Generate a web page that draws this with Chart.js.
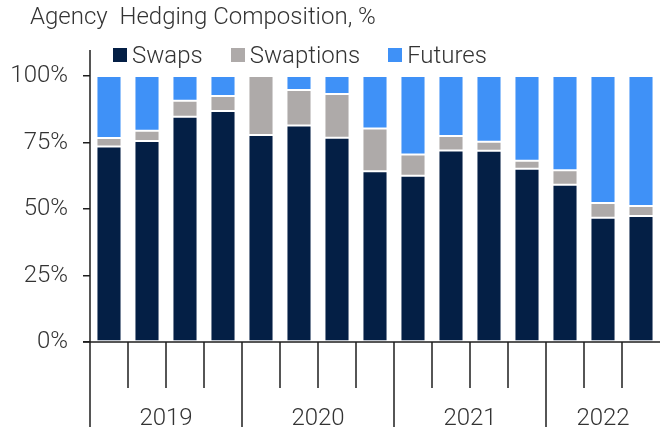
<!DOCTYPE html>
<html>
<head>
<meta charset="utf-8">
<script src="https://cdn.jsdelivr.net/npm/chart.js@4/dist/chart.umd.min.js"></script>
<style>
  html, body { margin: 0; padding: 0; background: #fff; }
  #wrap { position: relative; width: 660px; height: 427px; font-family: Roboto, 'Noto Sans', sans-serif; font-weight: 300; color: #333; }
  #titulo { position: absolute; left: 30px; top: 2px; font-size: 24px; white-space: nowrap; }
  #leyenda { position: absolute; left: 113px; top: 41px; display: flex; font-size: 24px; white-space: nowrap; }
  .item { display: flex; align-items: center; margin-right: 28px; }
  .caja { width: 14px; height: 14px; margin-right: 5px; }
  canvas { position: absolute; left: 0; top: 0; }
</style>
</head>
<body>
<div id="wrap">
  <canvas id="grafica" width="660" height="427"></canvas>
  <div id="titulo">Agency&nbsp; Hedging Composition, %</div>
  <div id="leyenda"></div>
</div>
<script>
// Datos (% del total)
const quarters = ['1Q19','2Q19','3Q19','4Q19','1Q20','2Q20','3Q20','4Q20','1Q21','2Q21','3Q21','4Q21','1Q22','2Q22','3Q22']
const years    = ['2019','2019','2019','2019','2020','2020','2020','2020','2021','2021','2021','2021','2022','2022','2022']
const swaps     = [73.5, 75.6, 84.7, 86.8, 77.8, 81.4, 76.8, 64.2, 62.5, 72.0, 71.9, 65.1, 59.1, 46.7, 47.4]
const swaptions = [3.2, 3.8, 6.0, 5.7, 22.2, 13.3, 16.4, 16.1, 8.0, 5.4, 3.4, 3.0, 5.5, 5.6, 3.7]
const futures   = [23.3, 20.6, 9.3, 7.5, 0.0, 5.3, 6.8, 19.7, 29.5, 22.6, 24.7, 31.9, 35.4, 47.7, 48.9]
const yTicks    = [0, 25, 50, 75, 100]

const COLORS = {
  swaps:     '#041f45',
  swaptions: '#aeaaa9',
  futures:   '#3f91f7',
  axis:      '#1e1e1e',
  text:      '#333333',
}
const FONT = "Roboto, 'Noto Sans', sans-serif"

const series = [
  { label: 'Swaps',     data: swaps,     color: COLORS.swaps },
  { label: 'Swaptions', data: swaptions, color: COLORS.swaptions },
  { label: 'Futures',   data: futures,   color: COLORS.futures },
]

// Leyenda en HTML
const ley = document.getElementById('leyenda')
series.forEach(function(s) {
  const it = document.createElement('div')
  it.className = 'item'
  it.innerHTML = '<div class="caja" style="background:' + s.color + '"></div><span>' + s.label + '</span>'
  ley.appendChild(it)
})

// Ejes, marcas de trimestre y etiquetas de año
const ejes = {
  id: 'ejes',
  afterDraw(chart) {
    const ctx = chart.ctx
    const x = chart.scales.x
    const y = chart.scales.y
    const area = chart.chartArea
    const y0 = y.getPixelForValue(0)
    const step = x.getPixelForValue(1) - x.getPixelForValue(0)
    ctx.save()
    ctx.strokeStyle = COLORS.axis
    ctx.lineWidth = 1.5
    // eje y
    ctx.beginPath()
    ctx.moveTo(area.left, 50)
    ctx.lineTo(area.left, chart.height)
    ctx.stroke()
    // eje x
    ctx.beginPath()
    ctx.moveTo(area.left - 7, y0)
    ctx.lineTo(chart.width, y0)
    ctx.stroke()
    // marcas
    for (let i = 1; i < quarters.length; i++) {
      const px = x.getPixelForValue(i) - step / 2
      const larga = years[i] !== years[i - 1]
      ctx.beginPath()
      ctx.moveTo(px, y0)
      ctx.lineTo(px, larga ? chart.height : y0 + 46)
      ctx.stroke()
    }
    // años
    ctx.fillStyle = COLORS.text
    ctx.font = '300 24px ' + FONT
    ctx.textAlign = 'center'
    ctx.textBaseline = 'alphabetic'
    const vistos = []
    years.forEach(function(yr) { if (vistos.indexOf(yr) < 0) vistos.push(yr) })
    vistos.forEach(function(yr) {
      const a = years.indexOf(yr)
      const b = years.lastIndexOf(yr)
      const cx = (x.getPixelForValue(a) + x.getPixelForValue(b)) / 2
      ctx.fillText(yr, cx, 425)
    })
    ctx.restore()
  }
}

new Chart(document.getElementById('grafica'), {
  type: 'bar',
  data: {
    labels: quarters,
    datasets: series.map(function(s) {
      return {
        label: s.label,
        data: s.data,
        backgroundColor: s.color,
        borderColor: 'rgba(255,255,255,0.4)',
        borderWidth: 1,
        borderSkipped: false,
        categoryPercentage: 1,
        barPercentage: 0.66,
      }
    })
  },
  options: {
    responsive: false,
    animation: false,
    devicePixelRatio: 1,
    layout: { padding: { top: 76, right: -4, left: 0, bottom: 0 } },
    plugins: { legend: { display: false }, title: { display: false }, tooltip: { enabled: false } },
    scales: {
      x: {
        stacked: true,
        ticks: { display: false },
        grid: { display: false },
        border: { display: false },
        afterFit: function(s) { s.height = 85 },
      },
      y: {
        stacked: true,
        min: 0,
        max: 100,
        afterBuildTicks: function(s) { s.ticks = yTicks.map(function(v) { return { value: v } }) },
        ticks: {
          padding: 15,
          color: COLORS.text,
          font: { family: FONT, size: 24, weight: '300' },
          callback: function(v) { return v + '%' },
        },
        grid: { drawOnChartArea: false, tickLength: 7, color: COLORS.axis, lineWidth: 1.5 },
        border: { display: false },
        afterFit: function(s) { s.width = 90 },
      }
    }
  },
  plugins: [ejes]
})
</script>
</body>
</html>
